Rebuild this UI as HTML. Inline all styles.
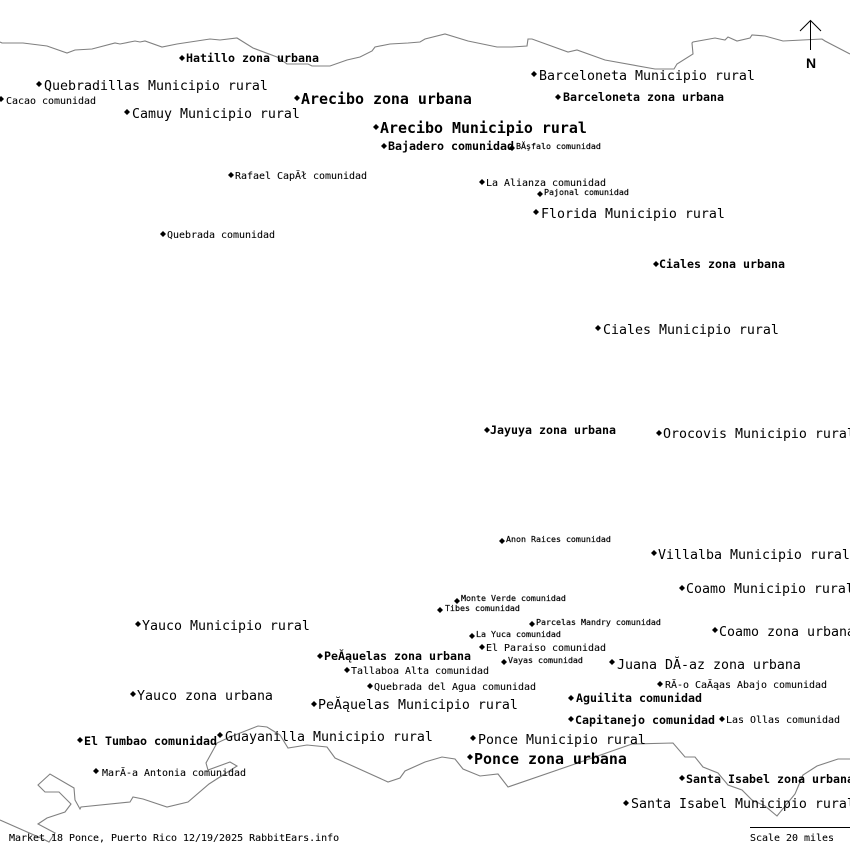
<!DOCTYPE html>
<html><head><meta charset="utf-8"><style>
html,body{margin:0;padding:0;background:#fff;width:850px;height:850px;overflow:hidden}
svg{display:block}
text{font-family:"DejaVu Sans Mono","Liberation Mono",monospace;fill:#000;white-space:pre}
.l{font-size:13.29px}
.x{font-size:14.95px;font-weight:bold}
.m{font-size:11.63px;font-weight:bold}
.s{font-size:9.97px;stroke:#000;stroke-width:.08}
.t{font-size:8.31px;stroke:#000;stroke-width:.18}
.c{fill:none;stroke:#808080;stroke-width:1.1}
</style></head><body>
<svg width="850" height="850" viewBox="0 0 850 850" xmlns="http://www.w3.org/2000/svg">
<polyline class="c" points="0,42 2,43 23,43 47,46 67,53 75,50 92,49 115,43 120,44 135,41 140,42 145,41 162,47 177,44 210,39 220,40 237,38 253,48 277,57 287,64 308,64 312,66 330,66 347,60 360,57 372,51 375,47 390,44 408,43 420,42 425,39 445,34 468,41 497,47 512,47 527,46 528,39 532,39 568,52 577,50 605,60 655,69 674,69 677,64 693,54 692,43 693,42 715,38 725,40 728,37 737,41 750,38 752,35 765,36 783,41 822,39 825,41 850,54"/>
<polyline class="c" points="0,820 43,839 49,842 55,833 38,824 47,818 65,812 71,804 59,792 45,792 38,785 50,774 74,788 75,800 80,809 81,807 130,802 133,797 143,799 167,807 188,802 209,784 237,766 230,762 208,770 206,763 217,743 230,737 258,726 267,727 280,735 288,748 307,745 327,747 335,758 388,782 400,778 405,771 425,762 442,757 455,759 463,769 480,776 498,774 508,787 572,765 632,744 673,743 685,757 695,757 703,767 718,773 728,785 742,790 752,800 765,806 777,816 795,794 803,775 817,766 838,759 850,759"/>
<g fill="#000">
<polygon points="182,55 185,58 182,61 179,58"/><polygon points="39,81 42,84 39,87 36,84"/><polygon points="1,96 4,99 1,102 -2,99"/><polygon points="127,109 130,112 127,115 124,112"/><polygon points="297,95 300,98 297,101 294,98"/><polygon points="376,124 379,127 376,130 373,127"/><polygon points="384,143 387,146 384,149 381,146"/><polygon points="231,172 234,175 231,178 228,175"/><polygon points="163,231 166,234 163,237 160,234"/><polygon points="534,71 537,74 534,77 531,74"/><polygon points="558,94 561,97 558,100 555,97"/><polygon points="512,145 515,148 512,151 509,148"/><polygon points="482,179 485,182 482,185 479,182"/><polygon points="540,191 543,194 540,197 537,194"/><polygon points="536,209 539,212 536,215 533,212"/><polygon points="656,261 659,264 656,267 653,264"/><polygon points="598,325 601,328 598,331 595,328"/><polygon points="487,427 490,430 487,433 484,430"/><polygon points="659,430 662,433 659,436 656,433"/><polygon points="502,538 505,541 502,544 499,541"/><polygon points="654,550 657,553 654,556 651,553"/><polygon points="682,585 685,588 682,591 679,588"/><polygon points="457,598 460,601 457,604 454,601"/><polygon points="440,607 443,610 440,613 437,610"/><polygon points="532,621 535,624 532,627 529,624"/><polygon points="715,627 718,630 715,633 712,630"/><polygon points="472,633 475,636 472,639 469,636"/><polygon points="138,621 141,624 138,627 135,624"/><polygon points="482,644 485,647 482,650 479,647"/><polygon points="320,653 323,656 320,659 317,656"/><polygon points="504,659 507,662 504,665 501,662"/><polygon points="612,659 615,662 612,665 609,662"/><polygon points="347,667 350,670 347,673 344,670"/><polygon points="133,691 136,694 133,697 130,694"/><polygon points="660,681 663,684 660,687 657,684"/><polygon points="370,683 373,686 370,689 367,686"/><polygon points="571,695 574,698 571,701 568,698"/><polygon points="314,701 317,704 314,707 311,704"/><polygon points="571,716 574,719 571,722 568,719"/><polygon points="722,716 725,719 722,722 719,719"/><polygon points="220,732 223,735 220,738 217,735"/><polygon points="80,737 83,740 80,743 77,740"/><polygon points="473,735 476,738 473,741 470,738"/><polygon points="470,754 473,757 470,760 467,757"/><polygon points="96,768 99,771 96,774 93,771"/><polygon points="682,775 685,778 682,781 679,778"/><polygon points="626,800 629,803 626,806 623,803"/>
</g>
<text class="l" x="44" y="90">Quebradillas Municipio rural</text>
<text class="l" x="132" y="118">Camuy Municipio rural</text>
<text class="l" x="539" y="80">Barceloneta Municipio rural</text>
<text class="l" x="541" y="218">Florida Municipio rural</text>
<text class="l" x="603" y="334">Ciales Municipio rural</text>
<text class="l" x="663" y="438">Orocovis Municipio rural</text>
<text class="l" x="658" y="559">Villalba Municipio rural</text>
<text class="l" x="686" y="593">Coamo Municipio rural</text>
<text class="l" x="719" y="636">Coamo zona urbana</text>
<text class="l" x="142" y="630">Yauco Municipio rural</text>
<text class="l" x="137" y="700">Yauco zona urbana</text>
<text class="l" x="617" y="669">Juana DĂ-az zona urbana</text>
<text class="l" x="318" y="709">PeĂąuelas Municipio rural</text>
<text class="l" x="225" y="741">Guayanilla Municipio rural</text>
<text class="l" x="478" y="744">Ponce Municipio rural</text>
<text class="l" x="631" y="808">Santa Isabel Municipio rural</text>
<text class="x" x="301" y="104">Arecibo zona urbana</text>
<text class="x" x="380" y="133">Arecibo Municipio rural</text>
<text class="x" x="474" y="764">Ponce zona urbana</text>
<text class="m" x="186" y="62">Hatillo zona urbana</text>
<text class="m" x="563" y="101">Barceloneta zona urbana</text>
<text class="m" x="388" y="150">Bajadero comunidad</text>
<text class="m" x="659" y="268">Ciales zona urbana</text>
<text class="m" x="490" y="434">Jayuya zona urbana</text>
<text class="m" x="324" y="660">PeĂąuelas zona urbana</text>
<text class="m" x="576" y="702">Aguilita comunidad</text>
<text class="m" x="575" y="724">Capitanejo comunidad</text>
<text class="m" x="84" y="745">El Tumbao comunidad</text>
<text class="m" x="686" y="783">Santa Isabel zona urbana</text>
<text class="s" x="6" y="104">Cacao comunidad</text>
<text class="s" x="235" y="179">Rafael CapĂł comunidad</text>
<text class="s" x="167" y="238">Quebrada comunidad</text>
<text class="s" x="486" y="186">La Alianza comunidad</text>
<text class="s" x="351" y="674">Tallaboa Alta comunidad</text>
<text class="s" x="374" y="690">Quebrada del Agua comunidad</text>
<text class="s" x="102" y="776">MarĂ-a Antonia comunidad</text>
<text class="s" x="486" y="651">El Paraiso comunidad</text>
<text class="s" x="665" y="688">RĂ-o CaĂąas Abajo comunidad</text>
<text class="s" x="726" y="723">Las Ollas comunidad</text>
<text class="s" x="9" y="841">Market 18 Ponce, Puerto Rico 12/19/2025 RabbitEars.info</text>
<text class="s" x="750" y="841">Scale 20 miles</text>
<text class="t" x="516" y="149">BĂşfalo comunidad</text>
<text class="t" x="544" y="195">Pajonal comunidad</text>
<text class="t" x="506" y="542">Anon Raices comunidad</text>
<text class="t" x="461" y="601">Monte Verde comunidad</text>
<text class="t" x="445" y="611">Tibes comunidad</text>
<text class="t" x="536" y="625">Parcelas Mandry comunidad</text>
<text class="t" x="476" y="637">La Yuca comunidad</text>
<text class="t" x="508" y="663">Vayas comunidad</text>
<path d="M810.5 50V20.5M800 31L810.5 20.5L821 31" fill="none" stroke="#000" stroke-width="1"/>
<text x="806" y="68" style="font-family:'Liberation Sans',sans-serif;font-size:14px;font-weight:bold">N</text>
<path d="M750 827.5H850" stroke="#000" stroke-width="1"/>
</svg>
</body></html>
